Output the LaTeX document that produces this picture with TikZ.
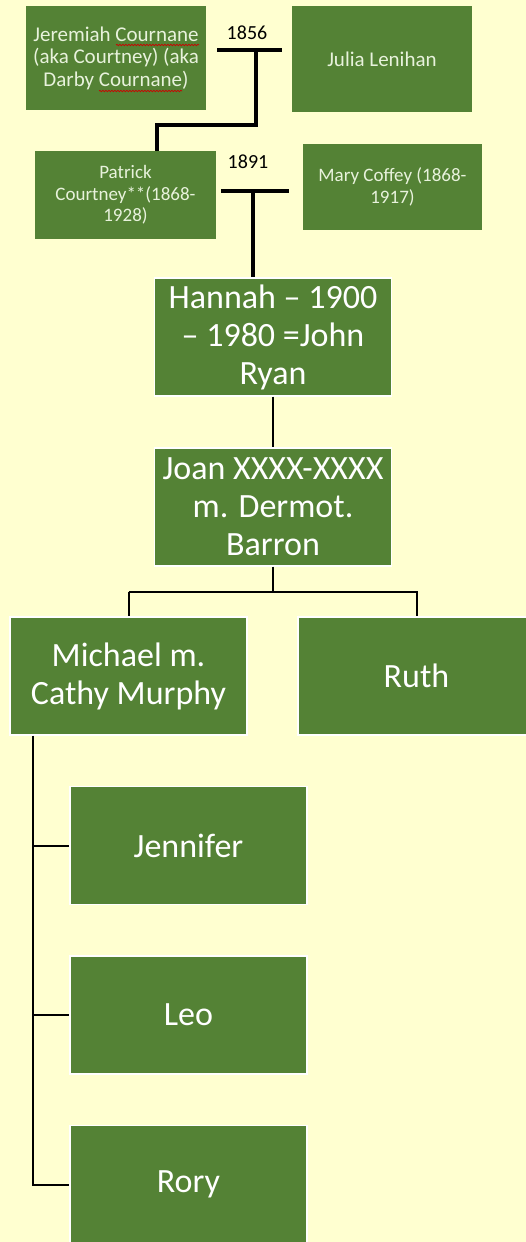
\documentclass[tikz,border=0pt]{standalone}
\usepackage{fontspec}
\setmainfont{Carlito}
\usetikzlibrary{calc,decorations.pathmorphing}

\definecolor{pagebg}{RGB}{255,255,208}
\definecolor{boxgreen}{RGB}{84,130,53}
\definecolor{paletext}{RGB}{232,242,220}

\tikzset{
  box/.style={rectangle, fill=boxgreen, draw=white, line width=1.3pt,
    text=white, align=center, inner sep=0pt,
    minimum width=237pt, minimum height=118pt,
    font=\fontsize{34}{38}\selectfont},
  topbox/.style={rectangle, fill=boxgreen, text=paletext, align=center,
    inner sep=0pt},
  year/.style={text=black, inner sep=0pt, font=\fontsize{20}{22}\selectfont},
  thickline/.style={draw=black, line width=3.5pt},
  thinline/.style={draw=black, line width=2pt},
  squiggle/.style={draw=red!80!black, line width=0.7pt,
    decorate, decoration={snake, segment length=3pt, amplitude=0.7pt}},
}

\begin{document}
\begin{tikzpicture}[x=1pt, y=-1pt]
  % page
  \fill[pagebg] (0,0) rectangle (526,1242);
  \useasboundingbox (0,0) rectangle (526,1242);

  % first generation
  \node[topbox, minimum width=180pt, minimum height=104pt,
        font=\fontsize{21}{22.5}\selectfont] (jer) at (116,58)
        {Jeremiah Cournane\\(aka Courtney) (aka\\Darby Cournane)};
  \node[topbox, minimum width=180pt, minimum height=106pt,
        font=\fontsize{21}{22.5}\selectfont] (jul) at (382,59)
        {Julia Lenihan};
  \draw[squiggle] ($(jer.center)+(0,-13)$) -- ($(jer.center)+(83,-13)$);
  \draw[squiggle] ($(jer.center)+(-17,33)$) -- ($(jer.center)+(66,33)$);

  \node[year] (y1) at (247,33) {1856};
  \coordinate (b1l) at (217,50);
  \coordinate (b1r) at (282,50);
  \coordinate (b1m) at (256,50);
  \coordinate (k1) at (157,125);

  % second generation
  \node[topbox, minimum width=181pt, minimum height=88pt,
        font=\fontsize{19}{21.5}\selectfont] (pat) at (125.5,195)
        {Patrick\\Courtney**(1868-\\1928)};
  \node[topbox, minimum width=179pt, minimum height=86pt,
        font=\fontsize{19}{21.5}\selectfont] (mary) at (392.5,187)
        {Mary Coffey (1868-\\1917)};

  \node[year] (y2) at (248,162) {1891};
  \coordinate (b2l) at (221,191);
  \coordinate (b2r) at (289,191);
  \coordinate (b2m) at (253,191);

  \draw[thickline] (b1l) -- (b1r);
  \draw[thickline] (b1m) |- (k1) -- (k1 |- pat.north);
  \draw[thickline] (b2l) -- (b2r);

  % later generations
  \node[box] (han) at (273,337) {Hannah -- 1900\\-- 1980 =John\\Ryan};
  \node[box] (joan) at (273,507) {Joan XXXX-XXXX\\m. Dermot.\\Barron};
  \node[box] (mic) at (128.5,676) {Michael m.\\Cathy Murphy};
  \node[box] (ruth) at (416.5,676) {Ruth};
  \node[box] (jen) at (188.5,845.5) {Jennifer};
  \node[box] (leo) at (188.5,1015) {Leo};
  \node[box] (rory) at (188.5,1184.5) {Rory};

  \draw[thickline] (b2m) -- (b2m |- han.north);
  \draw[thinline] (han.south) -- (joan.north);

  \coordinate (split) at (273,592);
  \draw[thinline] (joan.south) -- (split);
  \draw[thinline] (mic.north |- split) -| (ruth.north);
  \draw[thinline] (mic.north |- split) -- (mic.north);
  \draw[thinline] (split) -- (mic.north |- split);

  \coordinate (trunk) at (33,735.6);
  \draw[thinline] (trunk) |- (rory.west);
  \draw[thinline] (trunk |- jen.west) -- (jen.west);
  \draw[thinline] (trunk |- leo.west) -- (leo.west);
\end{tikzpicture}
\end{document}
